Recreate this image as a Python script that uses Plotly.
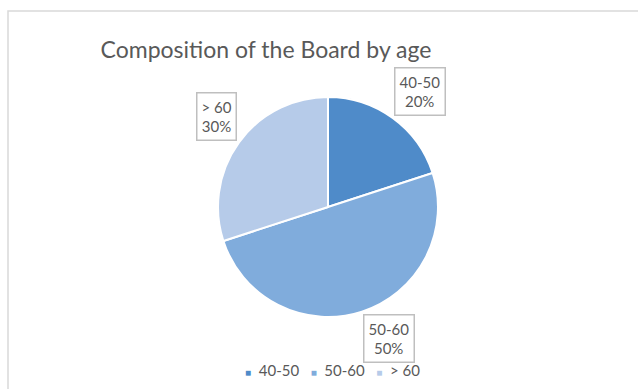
import numpy as np
import plotly.graph_objects as go

categories = ["40-50", "50-60", "> 60"]
values = [20, 50, 30]
colors = ["#4f8bc9", "#80acdc", "#b6cbe9"]

W, H = 638, 389
cx, cy, r = 328, 207, 110
FONT = "Lato, Noto Sans, sans-serif"
TXT = "#595959"

fig = go.Figure(go.Pie(
    labels=categories, values=values, sort=False, direction="clockwise", rotation=0,
    marker=dict(colors=colors, line=dict(color="white", width=2)),
    textinfo="none", hoverinfo="label+percent", showlegend=False,
    domain=dict(x=[(cx - r) / W, (cx + r) / W], y=[1 - (cy + r) / H, 1 - (cy - r) / H]),
))

# callout data labels anchored at the pie edge along each slice's mid-angle
vals = np.array(values, dtype=float)
frac = vals / vals.sum()
mids = (np.cumsum(frac) - frac / 2) * 2 * np.pi
d = r + 2
anns = []
for cat, f, a in zip(categories, frac, mids):
    s, c = np.sin(a), np.cos(a)
    px = cx + d * s
    py = cy - d * c
    anns.append(dict(
        x=px / W, y=1 - py / H, xref="paper", yref="paper", showarrow=False,
        xanchor="left" if s > 0 else "right",
        yanchor="bottom" if c > 0 else "top",
        text=f"{cat}<br>{round(f*100)}%", align="center",
        font=dict(family=FONT, size=15, color=TXT),
        bgcolor="white", bordercolor="#bfbfbf", borderwidth=1.5, borderpad=4,
    ))

# compact legend row
gap = "&nbsp;" * 3
legend_text = gap.join(
    f"<span style='color:{c};font-size:10px'>■</span>&nbsp;&nbsp;{cat.replace('>', '&gt;')}"
    for cat, c in zip(categories, colors)
)
anns.append(dict(x=332 / W, y=1 - 370 / H, xref="paper", yref="paper", showarrow=False,
                 xanchor="center", yanchor="middle", text=legend_text,
                 font=dict(family=FONT, size=15, color=TXT)))

fig.update_layout(
    width=W, height=H, margin=dict(l=0, r=0, t=0, b=0),
    paper_bgcolor="white", plot_bgcolor="white",
    title=dict(text="Composition of the Board by age", x=266 / W, xanchor="center",
               y=1 - 50 / H, yanchor="middle",
               font=dict(family=FONT, size=23, color=TXT)),
    showlegend=False,
    annotations=anns,
    shapes=[dict(type="rect", xref="paper", yref="paper", x0=8 / W, x1=1.02,
                 y0=-0.02, y1=1 - 11 / H, line=dict(color="#d9d9d9", width=1.5))],
)

fig.write_html("out.html")
